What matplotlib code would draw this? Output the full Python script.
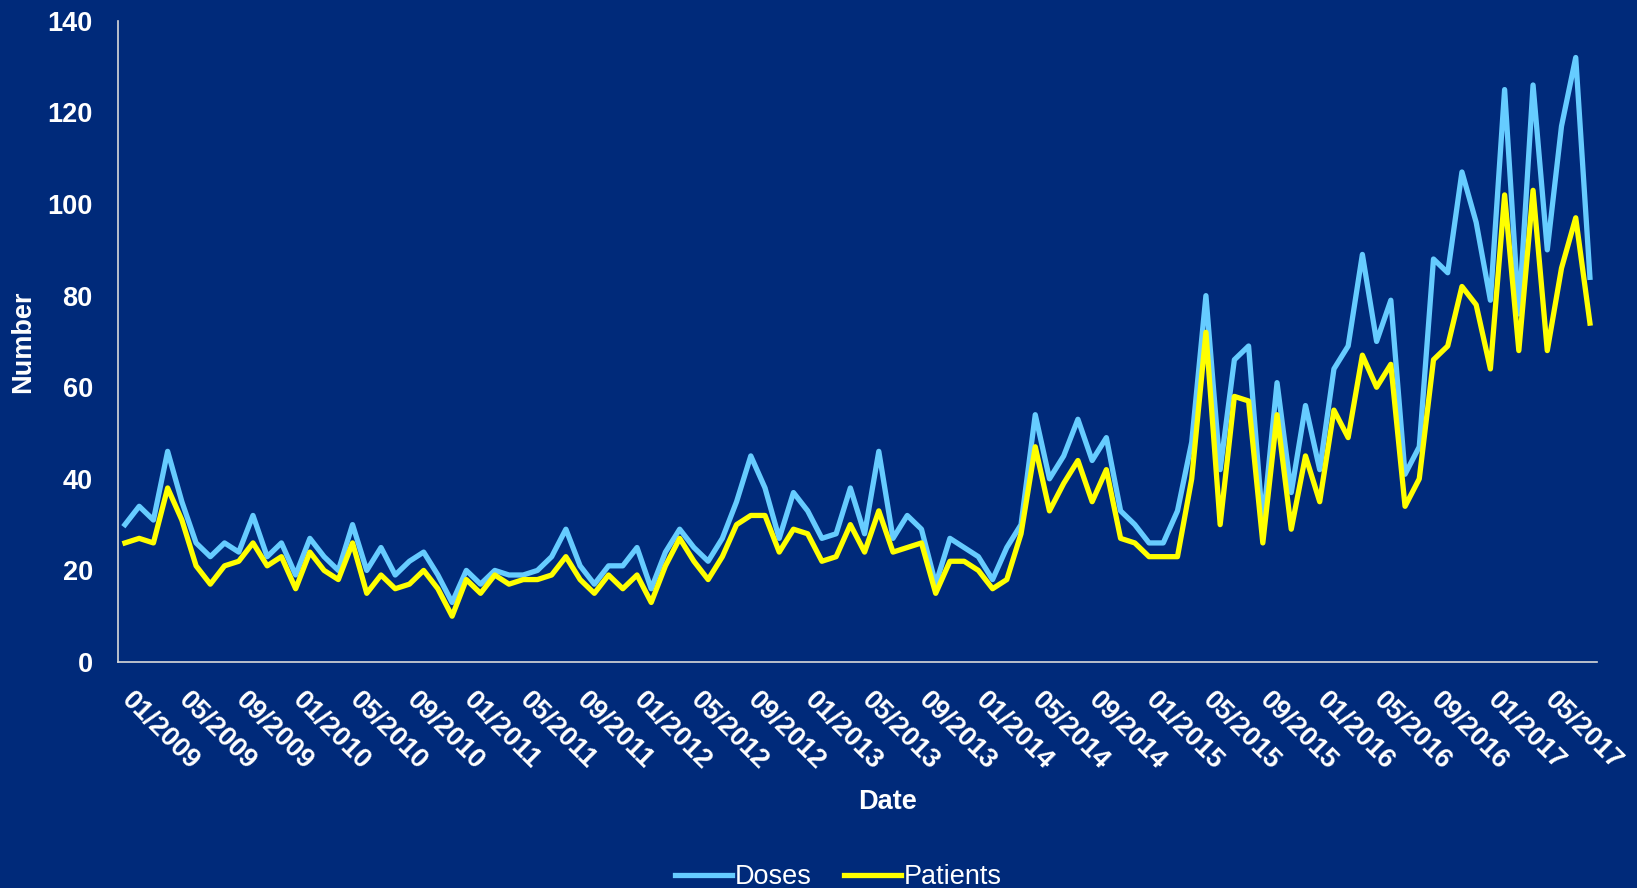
import matplotlib
matplotlib.use('Agg')
import matplotlib.pyplot as plt
import numpy as np

plt.rcParams['font.family'] = ['Liberation Sans', 'DejaVu Sans']

# monthly values, 01/2009 .. 08/2017
doses = [30, 34, 31, 46, 35, 26, 23, 26, 24, 32, 23, 26, 19, 27, 23, 20, 30, 20, 25, 19,
         22, 24, 19, 13, 20, 17, 20, 19, 19, 20, 23, 29, 21, 17, 21, 21, 25, 16, 24, 29,
         25, 22, 27, 35, 45, 38, 27, 37, 33, 27, 28, 38, 28, 46, 27, 32, 29, 17, 27, 25,
         23, 18, 25, 30, 54, 40, 45, 53, 44, 49, 33, 30, 26, 26, 33, 48, 80, 42, 66, 69,
         30, 61, 37, 56, 42, 64, 69, 89, 70, 79, 41, 47, 88, 85, 107, 96, 79, 125, 76, 126,
         90, 117, 132, 84]
patients = [26, 27, 26, 38, 31, 21, 17, 21, 22, 26, 21, 23, 16, 24, 20, 18, 26, 15, 19, 16,
            17, 20, 16, 10, 18, 15, 19, 17, 18, 18, 19, 23, 18, 15, 19, 16, 19, 13, 21, 27,
            22, 18, 23, 30, 32, 32, 24, 29, 28, 22, 23, 30, 24, 33, 24, 25, 26, 15, 22, 22,
            20, 16, 18, 28, 47, 33, 39, 44, 35, 42, 27, 26, 23, 23, 23, 40, 72, 30, 58, 57,
            26, 54, 29, 45, 35, 55, 49, 67, 60, 65, 34, 40, 66, 69, 82, 78, 64, 102, 68, 103,
            68, 86, 97, 74]

months = ['%02d/%d' % (m, y) for y in range(2009, 2018) for m in range(1, 13)][:len(doses)]
tick_idx = list(range(0, len(months), 4))

bg = '#002a7a'
fig = plt.figure(figsize=(16.37, 8.88), dpi=100, facecolor=bg)
ax = fig.add_axes([0.072, 0.2545, 0.9036, 0.722], facecolor=bg)

x = np.arange(len(doses))
ax.plot(x, doses, color='#66ccff', lw=3.8, label='Doses', solid_joinstyle='round')
ax.plot(x, patients, color='#ffff00', lw=3.8, label='Patients', solid_joinstyle='round')

ax.set_xlim(-0.5, len(doses) - 0.5)
ax.set_ylim(0, 140)
ax.set_yticks(range(0, 141, 20))
# rotated labels hang from a point a little right of each month
ax.set_xticks([i + 0.7 for i in tick_idx])
ax.set_xticklabels([months[i] for i in tick_idx], rotation=-45, ha='left', va='top',
                   rotation_mode='anchor', fontsize=19.5, fontweight='bold', color='white')
for lab in ax.get_yticklabels():
    lab.set_fontsize(19.5)
    lab.set_fontweight('bold')
    lab.set_color('white')
ax.tick_params(axis='both', length=0)
ax.tick_params(axis='y', pad=18)
ax.tick_params(axis='x', pad=18)

for s in ['top', 'right']:
    ax.spines[s].set_visible(False)
for s in ['left', 'bottom']:
    ax.spines[s].set_color('#d9d9d9')
    ax.spines[s].set_linewidth(1.2)

ax.set_ylabel('Number', fontsize=19.5, fontweight='bold', color='white', va='center')
ax.yaxis.set_label_coords(-0.064, 0.5)
ax.set_xlabel('Date', fontsize=19.5, fontweight='bold', color='white', va='center')
ax.xaxis.set_label_coords(0.5206, -0.218)

leg = fig.legend(loc='lower center', bbox_to_anchor=(0.512, -0.03), ncol=2, frameon=False,
                 fontsize=19.5, handlelength=2.1, columnspacing=1.2, handletextpad=0.1)
for t in leg.get_texts():
    t.set_color('white')

fig.savefig('out.png', dpi=100, facecolor=bg)
